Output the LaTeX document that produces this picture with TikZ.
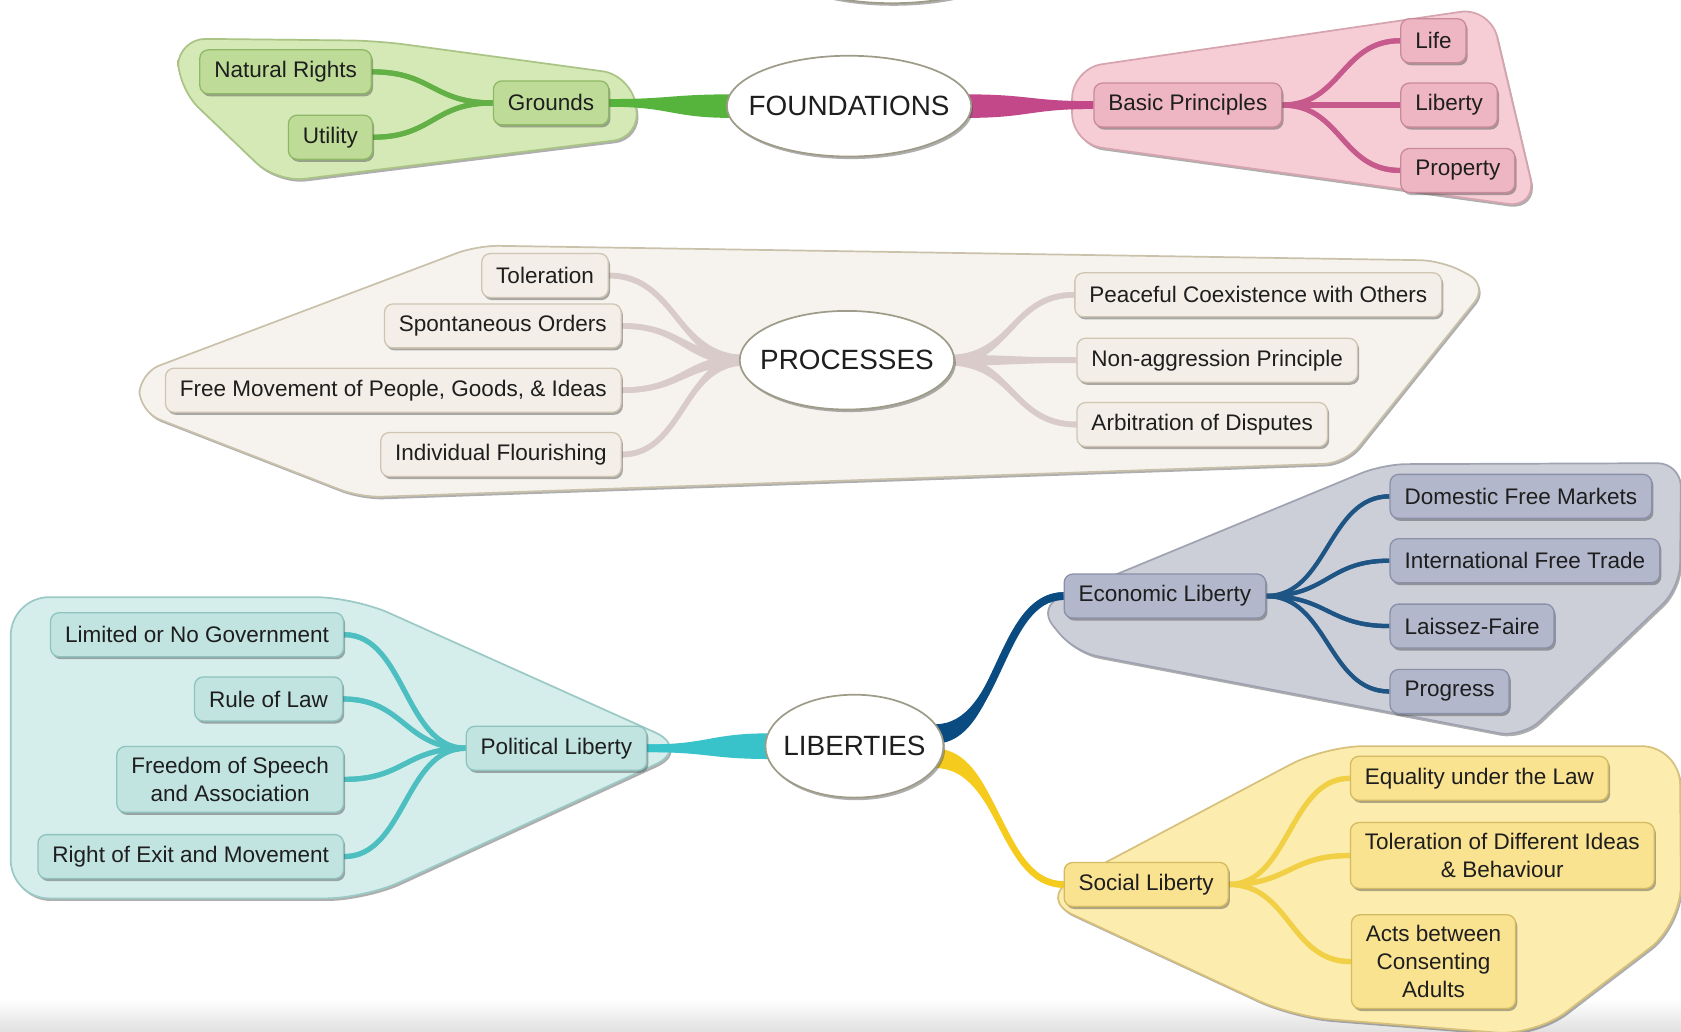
\documentclass[tikz,border=0pt]{standalone}
\usepackage{fontspec}
\setmainfont{Liberation Sans}
\usetikzlibrary{calc,shadows,shapes.geometric}
\pgfdeclarelayer{bg}
\pgfdeclarelayer{links}
\pgfsetlayers{bg,links,main}
\definecolor{txt}{HTML}{1E1E1E}
\definecolor{ellline}{HTML}{9E9C88}
\definecolor{gblob}{HTML}{D4E9B6}\definecolor{gblobl}{HTML}{A9C484}
\definecolor{gnode}{HTML}{BEDC98}\definecolor{gnodel}{HTML}{8FB866}
\definecolor{glink}{HTML}{62B046}\definecolor{gmain}{HTML}{56B43C}
\definecolor{pblob}{HTML}{F6CDD5}\definecolor{pblobl}{HTML}{D6A4AE}
\definecolor{pnode}{HTML}{EEB6C3}\definecolor{pnodel}{HTML}{C88A9A}
\definecolor{plink}{HTML}{C65A8C}\definecolor{pmain}{HTML}{C2488A}
\definecolor{wblob}{HTML}{F6F3EE}\definecolor{wblobl}{HTML}{C9C1AA}
\definecolor{wnode}{HTML}{F3EEE7}\definecolor{wnodel}{HTML}{CFC5B2}
\definecolor{wlink}{HTML}{DACBCB}
\definecolor{bblob}{HTML}{CCCED8}\definecolor{bblobl}{HTML}{9FA2B0}
\definecolor{bnode}{HTML}{B2B7CB}\definecolor{bnodel}{HTML}{8A90A8}
\definecolor{blink}{HTML}{1E5585}\definecolor{bmain}{HTML}{0A4C82}
\definecolor{tblob}{HTML}{D5EEEC}\definecolor{tblobl}{HTML}{9BC9C5}
\definecolor{tnode}{HTML}{C1E4E1}\definecolor{tnodel}{HTML}{8EC3BF}
\definecolor{tlink}{HTML}{4DBFC1}\definecolor{tmain}{HTML}{38C3CB}
\definecolor{yblob}{HTML}{FCEDAF}\definecolor{yblobl}{HTML}{D6C07A}
\definecolor{ynode}{HTML}{F9E391}\definecolor{ynodel}{HTML}{D4BA60}
\definecolor{ylink}{HTML}{F1D045}\definecolor{ymain}{HTML}{F5CB1E}

\newcommand\taperlink[5]{%
  \fill[#5] let \p1=(#1), \p2=(#2), \p3=({0.5*(\x1+\x2)},0pt) in
    (\x1,{\y1+#3}) .. controls (\x3,{\y1+#3}) and (\x3,{\y2+#4}) .. (\x2,{\y2+#4})
    -- (\x2,{\y2-#4}) .. controls (\x3,{\y2-#4}) and (\x3,{\y1-#3}) .. (\x1,{\y1-#3}) -- cycle;
  \draw[#5, line width={2*min(#3,#4)}] let \p1=(#1), \p2=(#2), \p3=({0.5*(\x1+\x2)},0pt) in
    (\x1,\y1) .. controls (\x3,\y1) and (\x3,\y2) .. (\x2,\y2);}

\begin{document}
\begin{tikzpicture}[x=0.5pt,y=-0.5pt,
  font=\fontsize{10.5}{13}\selectfont,
  shadowed/.style={drop shadow={shadow xshift=0.8pt, shadow yshift=-1.2pt, opacity=0.45, fill=black!70}},
  box/.style={rectangle, rounded corners=4pt, inner xsep=6.75pt, inner ysep=5pt,
    minimum height=20.5pt, align=center, text=txt, line width=0.6pt, shadowed},
  gbox/.style={box, fill=gnode, draw=gnodel},
  pbox/.style={box, fill=pnode, draw=pnodel},
  wbox/.style={box, fill=wnode, draw=wnodel},
  bbox/.style={box, fill=bnode, draw=bnodel},
  tbox/.style={box, fill=tnode, draw=tnodel},
  ybox/.style={box, fill=ynode, draw=ynodel},
  mainell/.style={ellipse, fill=white, draw=ellline, line width=0.8pt, inner sep=0pt,
    text=txt, font=\fontsize{13}{15}\selectfont, shadowed},
  blob/.style={line width=0.8pt, shadowed}]
\useasboundingbox (0,0) rectangle (1568,962);

% ---------- nodes ----------
\node[mainell, minimum width=122pt, minimum height=48pt] (topell) at (832,-45) {};

\node[gbox, anchor=east] (nr) at (347,67) {Natural Rights};
\node[gbox, anchor=east] (ut) at (348,128) {Utility};
\node[gbox] (gr) at (514,96) {Grounds};
\node[mainell, minimum width=114pt, minimum height=47pt] (found) at (792,99) {\makebox[0pt]{FOUNDATIONS}};
\node[pbox] (bp) at (1108,98) {Basic Principles};
\node[pbox, anchor=west] (life) at (1306,38) {Life};
\node[pbox, anchor=west] (liberty) at (1306,98) {Liberty};
\node[pbox, anchor=west] (prop) at (1306,159) {Property};

\node[mainell, minimum width=100pt, minimum height=46pt] (proc) at (790,336) {\makebox[0pt]{PROCESSES}};
\node[wbox, anchor=east] (tol) at (568,257) {Toleration};
\node[wbox, anchor=east] (spo) at (580,304) {Spontaneous Orders};
\node[wbox, anchor=east] (fm) at (580,364) {Free Movement of People, Goods, \& Ideas};
\node[wbox, anchor=east] (ind) at (580,424) {Individual Flourishing};
\node[wbox, anchor=west] (pc) at (1002,275) {Peaceful Coexistence with Others};
\node[wbox, anchor=west] (na) at (1004,336) {Non-aggression Principle};
\node[wbox, anchor=west] (arb) at (1004,396) {Arbitration of Disputes};

\node[mainell, minimum width=83pt, minimum height=48pt] (lib) at (797,696) {\makebox[0pt]{LIBERTIES}};
\node[tbox] (pol) at (519,698) {Political Liberty};
\node[tbox, anchor=east] (lim) at (321,592) {Limited or No Government};
\node[tbox, anchor=east] (rol) at (320,652) {Rule of Law};
\node[tbox, anchor=east] (fos) at (321,727) {Freedom of Speech\\and Association};
\node[tbox, anchor=east] (roe) at (321,799) {Right of Exit and Movement};

\node[bbox, anchor=west] (eco) at (992,556) {Economic Liberty};
\node[bbox, anchor=west] (dfm) at (1296,463) {Domestic Free Markets};
\node[bbox, anchor=west] (ift) at (1296,523) {International Free Trade};
\node[bbox, anchor=west] (lf) at (1296,584) {Laissez-Faire};
\node[bbox, anchor=west] (prog) at (1296,645) {Progress};

\node[ybox, anchor=west] (soc) at (992,825) {Social Liberty};
\node[ybox, anchor=west] (eq) at (1259,726) {Equality under the Law};
\node[ybox, anchor=west] (tod) at (1259,798) {Toleration of Different Ideas\\\& Behaviour};
\node[ybox, anchor=west] (acts) at (1260,897) {Acts between\\Consenting\\Adults};

\coordinate (foundW) at ($(found.west)+(6,0)$);
\coordinate (foundE) at ($(found.east)+(-6,0)$);
\coordinate (procW) at ($(proc.west)+(6,0)$);
\coordinate (procE) at ($(proc.east)+(-6,0)$);
\coordinate (libW) at ($(lib.west)+(6,0)$);
\coordinate (libNE) at ($(lib.8)+(-6,0)$);
\coordinate (libSE) at ($(lib.-8)+(-6,0)$);

% ---------- group backgrounds ----------
\begin{pgfonlayer}{bg}
\fill[white] (0,0) rectangle (1568,962);
\shade[top color=white, bottom color=black!12] (0,932) rectangle (1568,962);
\path[blob, rounded corners=13pt, fill=gblob, draw=gblobl] (166,36) -- (352,38) -- (588,70) -- (598,128) -- (258,170) -- (166,82) -- cycle;
\path[blob, rounded corners=14pt, fill=pblob, draw=pblobl] (1000,64) -- (1390,7) -- (1434,194) -- (1000,134) -- cycle;
\path[blob, rounded corners=10pt, fill=wblob, draw=wblobl] (130,348) -- (445,229) -- (1345,243) -- (1388,266) -- (1255,432) -- (336,464) -- (130,384) -- cycle;
\path[blob, rounded corners=11pt, fill=bblob, draw=bblobl] (1002,608) -- (968,566) -- (1290,433) -- (1568,432) -- (1567,548) -- (1420,688) -- cycle;
\path[blob, rounded corners=18pt, fill=tblob, draw=tblobl] (10,557) -- (330,557) -- (644,698) -- (340,838) -- (10,838) -- cycle;
\path[blob, rounded corners=18pt, fill=yblob, draw=yblobl] (968,838) -- (1236,696) -- (1567,696) -- (1568,862) -- (1432,966) -- (1205,948) -- cycle;
\end{pgfonlayer}

% ---------- connectors ----------
\begin{pgfonlayer}{links}
\taperlink{gr.east}{foundW}{1.8pt}{5.5pt}{gmain}
\taperlink{nr.east}{gr.west}{1.2pt}{1.2pt}{glink}
\taperlink{ut.east}{gr.west}{1.2pt}{1.2pt}{glink}

\taperlink{foundE}{bp.west}{5.5pt}{1.8pt}{pmain}
\taperlink{bp.east}{life.west}{1.2pt}{1.2pt}{plink}
\taperlink{bp.east}{liberty.west}{1.2pt}{1.2pt}{plink}
\taperlink{bp.east}{prop.west}{1.2pt}{1.2pt}{plink}

\taperlink{procW}{tol.east}{2.5pt}{1.3pt}{wlink}
\taperlink{procW}{spo.east}{2.5pt}{1.3pt}{wlink}
\taperlink{procW}{fm.east}{2.5pt}{1.3pt}{wlink}
\taperlink{procW}{ind.east}{2.5pt}{1.3pt}{wlink}
\taperlink{procE}{pc.west}{2.5pt}{1.3pt}{wlink}
\taperlink{procE}{na.west}{2.5pt}{1.3pt}{wlink}
\taperlink{procE}{arb.west}{2.5pt}{1.3pt}{wlink}

\taperlink{pol.east}{libW}{1.8pt}{6pt}{tmain}
\taperlink{lim.east}{pol.west}{1.2pt}{1.2pt}{tlink}
\taperlink{rol.east}{pol.west}{1.2pt}{1.2pt}{tlink}
\taperlink{fos.east}{pol.west}{1.2pt}{1.2pt}{tlink}
\taperlink{roe.east}{pol.west}{1.2pt}{1.2pt}{tlink}

\taperlink{libNE}{eco.west}{4.5pt}{1.8pt}{bmain}
\taperlink{eco.east}{dfm.west}{1pt}{1pt}{blink}
\taperlink{eco.east}{ift.west}{1pt}{1pt}{blink}
\taperlink{eco.east}{lf.west}{1pt}{1pt}{blink}
\taperlink{eco.east}{prog.west}{1pt}{1pt}{blink}

\taperlink{libSE}{soc.west}{4.5pt}{1.5pt}{ymain}
\taperlink{soc.east}{eq.west}{1.2pt}{1.2pt}{ylink}
\taperlink{soc.east}{tod.west}{1.2pt}{1.2pt}{ylink}
\taperlink{soc.east}{acts.west}{1.2pt}{1.2pt}{ylink}
\end{pgfonlayer}
\end{tikzpicture}
\end{document}
